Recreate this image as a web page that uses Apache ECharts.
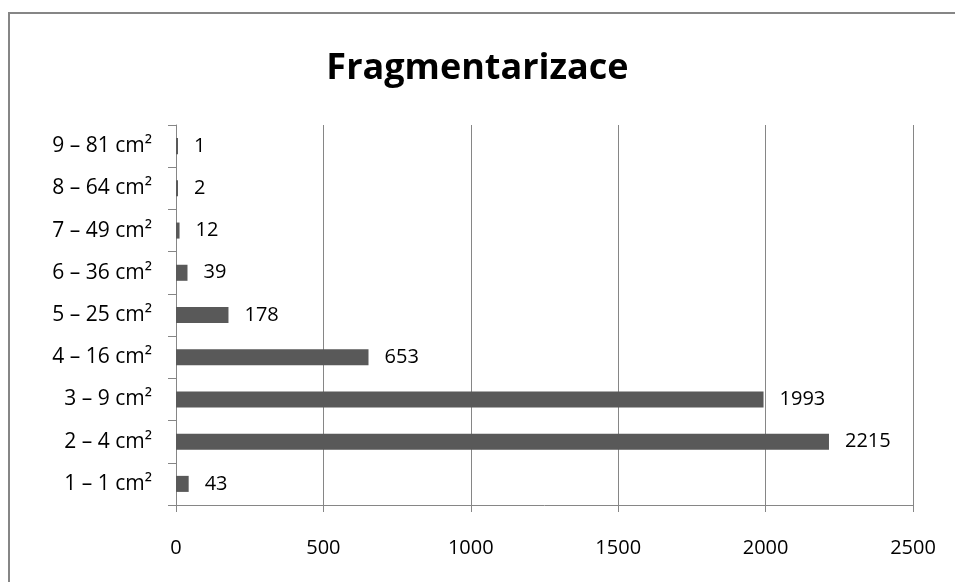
<!DOCTYPE html>
<html>
<head>
<meta charset="utf-8">
<script src="https://cdn.jsdelivr.net/npm/echarts@6/dist/echarts.min.js"></script>
<style>
  html, body { margin: 0; padding: 0; background: #fff; }
  #chart { width: 955px; height: 582px; }
</style>
</head>
<body>
<div id="chart"></div>
<script>
const categories = [
  "1 – 1 cm²", "2 – 4 cm²", "3 – 9 cm²", "4 – 16 cm²", "5 – 25 cm²",
  "6 – 36 cm²", "7 – 49 cm²", "8 – 64 cm²", "9 – 81 cm²"
];
const counts = [43, 2215, 1993, 653, 178, 39, 12, 2, 1];
const xTicks = [0, 500, 1000, 1500, 2000, 2500];

const fontFamily = "'Open Sans', 'Noto Sans', sans-serif";
const gridColor = "#868686";

const chart = echarts.init(document.getElementById("chart"));

chart.setOption({
  backgroundColor: "#ffffff",
  animation: false,
  title: {
    text: "Fragmentarizace",
    left: "center",
    top: 46,
    textStyle: {
      fontFamily: fontFamily,
      fontSize: 36,
      fontWeight: "bold",
      color: "#000"
    }
  },
  graphic: [
    {
      type: "polyline",
      shape: { points: [[9, 700], [9, 13], [2000, 13]] },
      style: { fill: "none", stroke: "#868686", lineWidth: 2 },
      silent: true
    }
  ],
  grid: {
    left: 176,
    right: 42,
    top: 125,
    bottom: 77,
    containLabel: false
  },
  xAxis: {
    type: "value",
    min: xTicks[0],
    max: xTicks[xTicks.length - 1],
    interval: 500,
    axisLine: { show: true, lineStyle: { color: gridColor, width: 1 } },
    axisTick: { show: true, length: 7, lineStyle: { color: gridColor } },
    axisLabel: {
      margin: 33,
      color: "#000",
      fontFamily: fontFamily,
      fontSize: 20,
      formatter: (v) => String(v)
    },
    splitLine: { show: true, lineStyle: { color: gridColor, width: 1 } }
  },
  yAxis: {
    type: "category",
    data: categories,
    axisLine: { show: true, lineStyle: { color: gridColor, width: 1 } },
    axisTick: { show: true, length: 8, lineStyle: { color: gridColor } },
    axisLabel: {
      margin: 24,
      color: "#000",
      fontFamily: fontFamily,
      fontSize: 21
    },
    splitLine: { show: false }
  },
  series: [
    {
      type: "bar",
      data: counts,
      barWidth: "38%",
      barMinHeight: 2,
      itemStyle: { color: "#595959" },
      label: {
        show: true,
        position: "right",
        distance: 16,
        color: "#000",
        fontFamily: fontFamily,
        fontSize: 20
      }
    }
  ]
});
</script>
</body>
</html>
